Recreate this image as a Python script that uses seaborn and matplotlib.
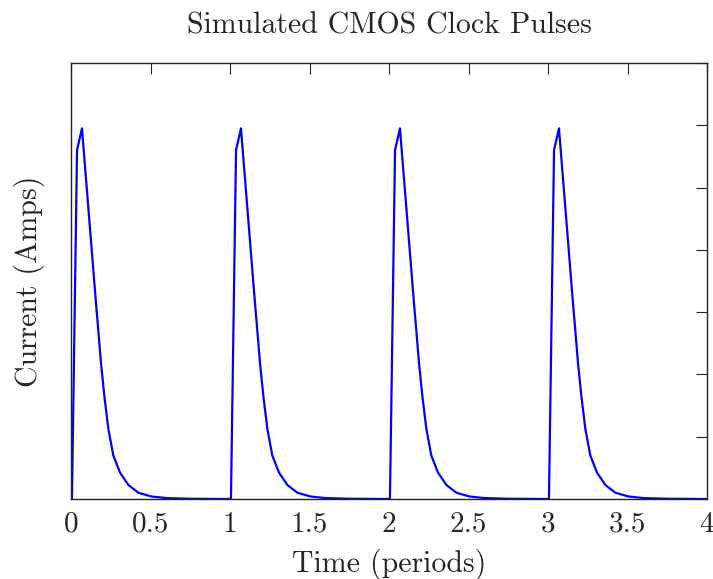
import matplotlib
matplotlib.use("Agg")
import matplotlib.pyplot as plt
import seaborn as sns
import pandas as pd

# Data
pulse_starts = [0.0, 1.0, 2.0, 3.0]
pulse_offsets = [0.006, 0.038, 0.069, 0.157, 0.172, 0.189, 0.210, 0.235,
                 0.266, 0.308, 0.361, 0.424, 0.507, 0.600, 0.750, 0.970]
pulse_values = [0.0, 1.12, 1.19, 0.63, 0.54, 0.435, 0.33, 0.225,
                0.14, 0.085, 0.045, 0.02, 0.008, 0.003, 0.0008, 0.0]
xticks = [0, 0.5, 1, 1.5, 2, 2.5, 3, 3.5, 4]
xticklabels = ["0", "0.5", "1", "1.5", "2", "2.5", "3", "3.5", "4"]
yticks = [0, 0.2, 0.4, 0.6, 0.8, 1.0, 1.2, 1.4]

times = [0.0]
values = [0.0]
for s in pulse_starts:
    for o, v in zip(pulse_offsets, pulse_values):
        times.append(s + o)
        values.append(v)
times.append(4.0)
values.append(0.0)
df = pd.DataFrame({"Time": times, "Current": values})

sns.set_style("white")
plt.rcParams["font.family"] = "serif"
plt.rcParams["font.serif"] = ["cmr10", "DejaVu Serif"]
plt.rcParams["mathtext.fontset"] = "cm"
plt.rcParams["axes.formatter.use_mathtext"] = True

fig = plt.figure(figsize=(7.13, 5.79), dpi=100)
ax = fig.add_axes([71/713, 1-499/579, (707-71)/713, (499-63)/579])
sns.lineplot(data=df, x="Time", y="Current", ax=ax, color="#0000ff",
             linewidth=1.6, estimator=None, sort=False)

ax.set_xlim(0, 4)
ax.set_ylim(0, 1.4)
ax.set_xticks(xticks)
ax.set_xticklabels(xticklabels)
ax.set_yticks(yticks)
ax.set_yticklabels([])
ax.tick_params(direction="in", length=8, width=0.8, color="#222222",
               top=True, right=True, labelsize=21, pad=9)
for sp in ax.spines.values():
    sp.set_color("#222222")
    sp.set_linewidth(1.0)
    sp.set_visible(True)

ax.set_xlabel("Time (periods)", fontsize=21.5, labelpad=8)
ax.set_ylabel("Current (Amps)", fontsize=21.5, labelpad=10)
ax.set_title("Simulated CMOS Clock Pulses", fontsize=21.5, pad=21)

fig.savefig("out.png", dpi=100)
